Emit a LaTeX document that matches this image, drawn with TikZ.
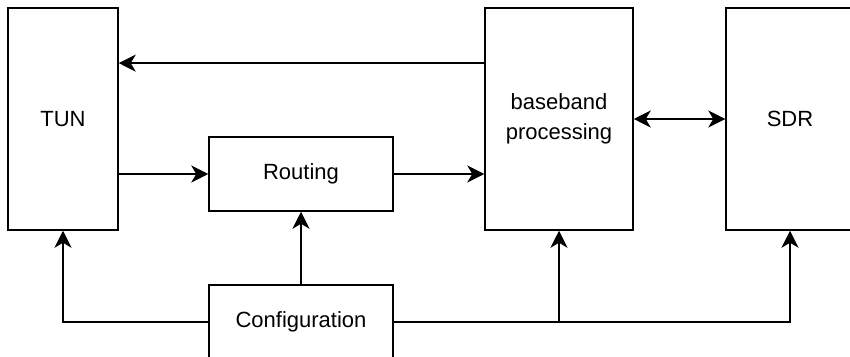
\documentclass[tikz,border=0pt]{standalone}
\usepackage{fontspec}
\setmainfont{Liberation Sans}
\usetikzlibrary{arrows.meta}
\usetikzlibrary{calc}

\begin{document}
\begin{tikzpicture}[x=0.5pt, y=-0.5pt, line width=0.75pt,
    block/.style={draw, fill=white, inner sep=0pt, font=\fontsize{11}{15}\selectfont, align=center},
    flow/.style={-{Stealth[length=8.5pt, width=8.5pt, inset=2.5pt]}},
    both/.style={{Stealth[length=8.5pt, width=8.5pt, inset=2.5pt]}-{Stealth[length=8.5pt, width=8.5pt, inset=2.5pt]}}]
  \clip (0,0) rectangle (850,357);
  \useasboundingbox (0,0) rectangle (850,357);
  \node[block, minimum width=55pt, minimum height=111pt] (tun) at (63,119) {TUN};
  \node[block, minimum width=92pt, minimum height=37pt] (routing) at (301,174) {Routing};
  \node[block, minimum width=74pt, minimum height=111pt] (baseband) at (559,119) {baseband\\processing};
  \node[block, minimum width=64pt, minimum height=111pt] (sdr) at (790,119) {SDR};
  \node[block, minimum width=92pt, minimum height=37pt] (config) at (301,322) {Configuration};
  \path[draw, flow] ($(baseband.north west)!0.25!(baseband.south west)$) -- ($(tun.north east)!0.25!(tun.south east)$);
  \path[draw, flow] (tun.east |- routing.west) -- (routing.west);
  \path[draw, flow] (routing.east) -- (routing.east -| baseband.west);
  \path[draw, both] (baseband.east) -- (sdr.west);
  \path[draw, flow] (config.north) -- (routing.south);
  \path[draw, flow] (config.west) -| (tun.south);
  \path[draw, flow] (config.east) -| (sdr.south);
  \path[draw, flow] (config.east -| baseband.south) -- (baseband.south);
\end{tikzpicture}
\end{document}
